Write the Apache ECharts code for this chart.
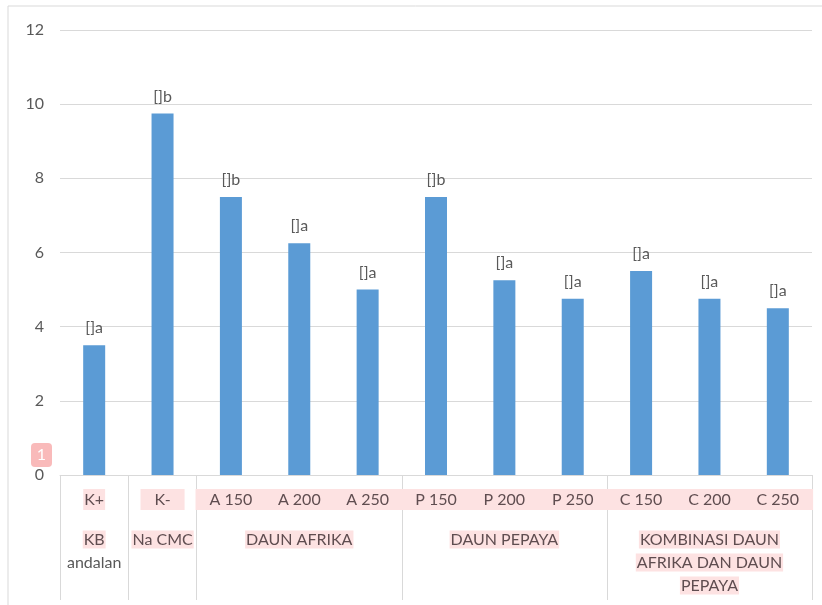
<!DOCTYPE html>
<html>
<head>
<meta charset="utf-8">
<script src="https://cdn.jsdelivr.net/npm/echarts@6/dist/echarts.min.js"></script>
<style>html,body{margin:0;padding:0;background:#fff}#c{width:822px;height:605px}</style>
</head>
<body>
<div id="c"></div>
<script>
const categories = ['K+','K-','A 150','A 200','A 250','P 150','P 200','P 250','C 150','C 200','C 250'];
const values = [3.5, 9.75, 7.5, 6.25, 5.0, 7.5, 5.25, 4.75, 5.5, 4.75, 4.5];
const letters = ['a','b','b','a','a','b','a','a','a','a','a'];
const groupLabels = ['KB\nandalan', 'Na CMC', 'DAUN AFRIKA', 'DAUN PEPAYA', 'KOMBINASI DAUN\nAFRIKA DAN DAUN\nPEPAYA'];
const groupSizes = [1, 1, 3, 3, 3];
const yTicks = [0, 2, 4, 6, 8, 10, 12];

const FONT = 'Lato';
const FS = 16;
const TXT = '#595959';
const HTXT = '#5f4d50';
const HBG = '#fde2e2';

const groupStarts = [];
const groupCenters = {};
let acc = 0;
groupSizes.forEach((s, g) => {
  groupStarts.push(acc);
  groupCenters[acc + Math.floor(s / 2)] = g;
  acc += s;
});

function groupFormatter(v, idx) {
  const g = groupCenters[idx];
  if (g === undefined) return '';
  const lines = groupLabels[g].split('\n');
  if (g === 0) return '{h|' + lines[0] + '}\n{n|' + lines[1] + '}';
  return lines.map(l => '{h|' + l + '}').join('\n');
}

const chart = echarts.init(document.getElementById('c'), null, {renderer: 'canvas'});
chart.setOption({
  animation: false,
  textStyle: {fontFamily: FONT},
  grid: {left: 60, right: 10, top: 30, bottom: 130, containLabel: false},
  xAxis: [{
    type: 'category',
    data: categories,
    position: 'bottom',
    axisLine: {show: true, lineStyle: {color: '#d9d9d9', width: 1}},
    axisTick: {show: false},
    axisLabel: {
      interval: 0, margin: 14, fontSize: FS, fontFamily: FONT, color: HTXT,
      formatter: (v, i) => i === 0 ? '{t|' + v + '}' : '{w|' + v + '}',
      rich: {
        t: {fontSize: FS, fontFamily: FONT, color: HTXT, backgroundColor: HBG, padding: [3, 1, 2, 1]},
        w: {fontSize: FS, fontFamily: FONT, color: HTXT, backgroundColor: HBG, padding: [3, 14, 2, 14]}
      }
    }
  }, {
    type: 'category',
    data: categories,
    position: 'bottom',
    axisLine: {show: false},
    axisTick: {
      show: true, length: 125, inside: false,
      interval: (idx) => groupStarts.indexOf(idx) >= 0,
      lineStyle: {color: '#d9d9d9', width: 1}
    },
    axisLabel: {
      interval: (idx) => groupCenters[idx] !== undefined,
      margin: 53, fontSize: FS, fontFamily: FONT, color: TXT, lineHeight: 23,
      formatter: groupFormatter,
      rich: {
        h: {fontSize: FS, fontFamily: FONT, color: HTXT, backgroundColor: HBG, lineHeight: 23, padding: [1, 1, 1, 1]},
        n: {fontSize: FS, fontFamily: FONT, color: TXT, lineHeight: 23}
      }
    },
    splitLine: {show: false}
  }],
  yAxis: {
    type: 'value',
    min: yTicks[0], max: yTicks[yTicks.length - 1], interval: yTicks[1] - yTicks[0],
    axisLine: {show: false},
    axisTick: {show: false},
    axisLabel: {fontSize: FS, fontFamily: FONT, color: TXT, margin: 16},
    splitLine: {lineStyle: {color: '#d9d9d9', width: 1}}
  },
  series: [{
    type: 'bar',
    xAxisIndex: 0,
    data: values,
    barWidth: 22,
    itemStyle: {color: '#5b9bd5'},
    label: {
      show: true, position: 'top', distance: 9,
      fontSize: FS, fontFamily: FONT, color: TXT,
      formatter: (p) => '[]' + letters[p.dataIndex]
    }
  }],
  graphic: [
    {type: 'rect', shape: {x: 8, y: 6, width: 830, height: 620}, style: {fill: 'none', stroke: '#d9d9d9', lineWidth: 1}, silent: true},
    {type: 'rect', shape: {x: 31, y: 443, width: 21, height: 24, r: 4}, style: {fill: '#f9baba'}, silent: true},
    {type: 'text', x: 41.5, y: 455, style: {text: '1', fill: '#ffffff', font: '16px ' + FONT, align: 'center', verticalAlign: 'middle'}, silent: true}
  ]
});
</script>
</body>
</html>
